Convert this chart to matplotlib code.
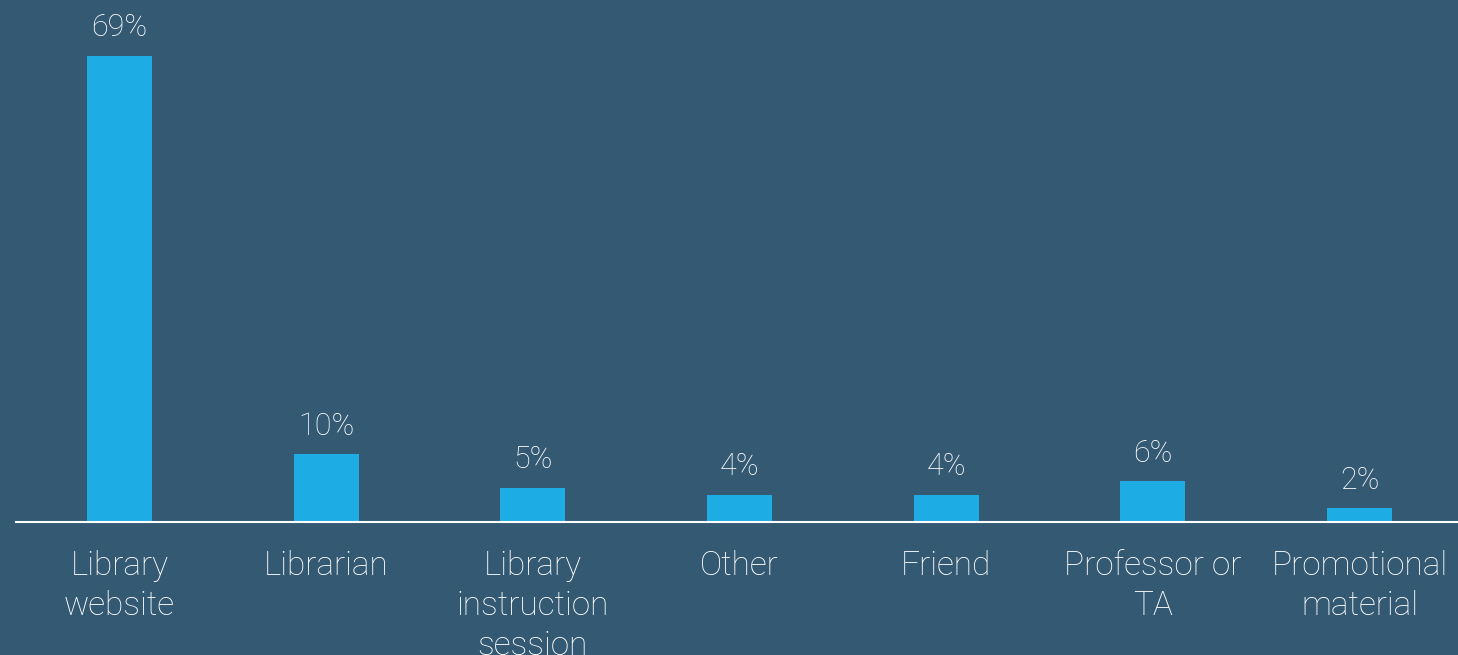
import matplotlib
matplotlib.use("Agg")
import matplotlib.pyplot as plt

categories = ["Library\nwebsite", "Librarian", "Library\ninstruction\nsession", "Other",
              "Friend", "Professor or\nTA", "Promotional\nmaterial"]
values = [69, 10, 5, 4, 4, 6, 2]
value_labels = ["69%", "10%", "5%", "4%", "4%", "6%", "2%"]

bg = "#345A73"
bar_color = "#1EACE4"
text_color = "#FFFFFF"

plt.rcParams["font.family"] = ["Roboto", "DejaVu Sans"]

fig = plt.figure(figsize=(14.58, 6.55), dpi=100, facecolor=bg)
ax = fig.add_axes([16 / 1458, 133 / 655, 1447 / 1458, 522 / 655], facecolor=bg)

x = list(range(len(categories)))
bars = ax.bar(x, values, width=0.315, color=bar_color, zorder=2)

ax.set_xlim(-0.5, len(categories) - 0.5)
ax.set_ylim(0, 77.3)

for rect, lab in zip(bars, value_labels):
    ax.annotate(lab, (rect.get_x() + rect.get_width() / 2, rect.get_height()),
                xytext=(0, 10), textcoords="offset points", ha="center", va="bottom",
                color=text_color, fontsize=22, fontweight="light")

ax.set_xticks(x)
ax.set_xticklabels(categories, color=text_color, fontsize=24, linespacing=1.32,
                   fontweight="light")
ax.tick_params(axis="x", length=0, pad=20)
ax.set_yticks([])

for side in ("left", "right", "top"):
    ax.spines[side].set_visible(False)
ax.spines["bottom"].set_color(text_color)
ax.spines["bottom"].set_linewidth(1.5)

fig.savefig("out.png", dpi=100, facecolor=bg)
